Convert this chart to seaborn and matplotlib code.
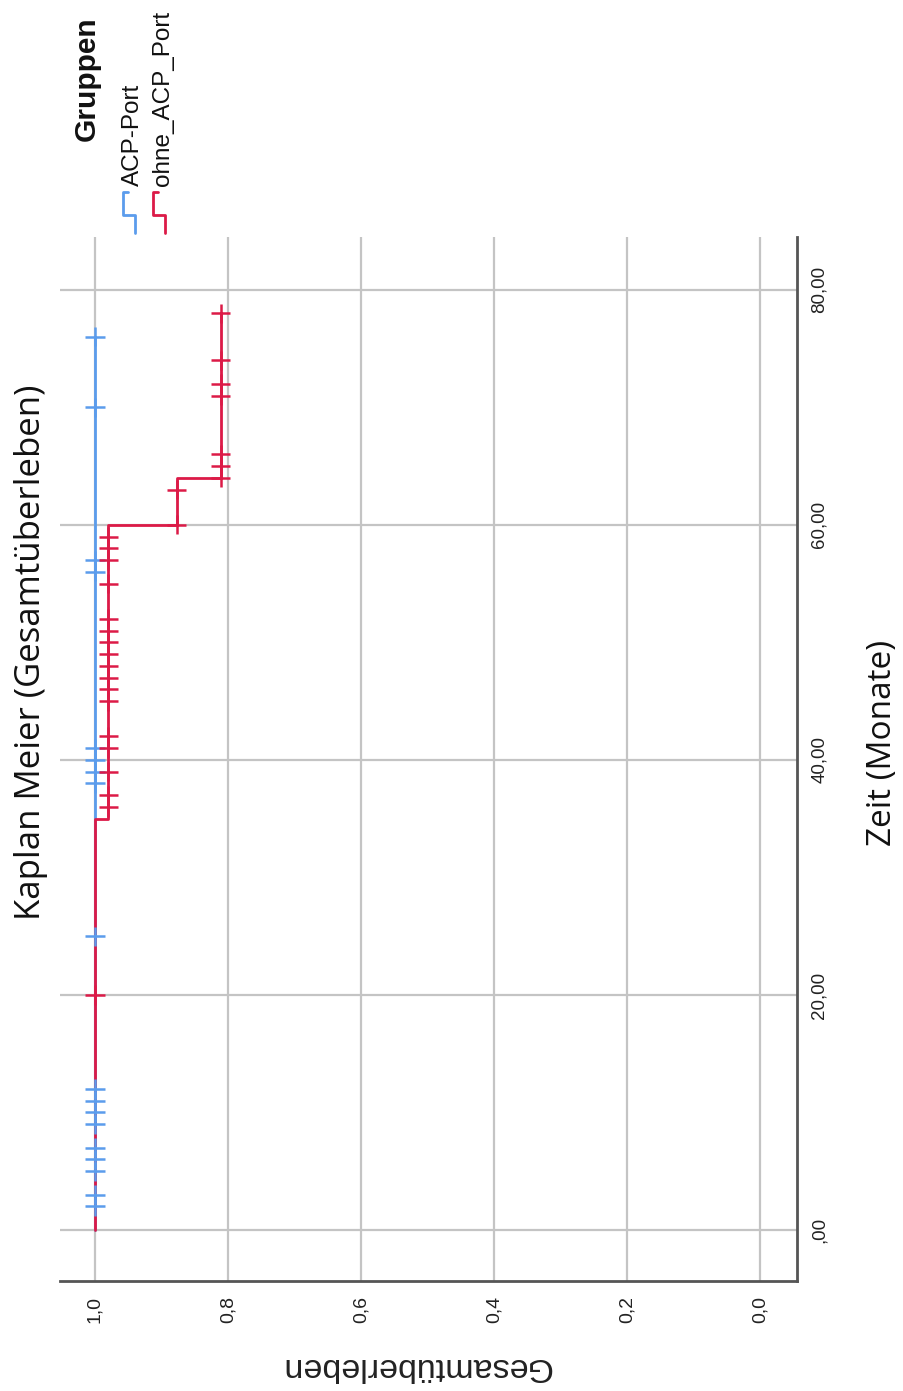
import matplotlib
matplotlib.use("Agg")
import matplotlib.pyplot as plt
import seaborn as sns
import pandas as pd

# Kaplan-Meier step curves (survival, time in months)
acp_time = [0, 76]
acp_surv = [1.0, 1.0]
ohne_time = [0, 35, 60, 64, 78]
ohne_surv = [1.0, 0.98, 0.877, 0.811, 0.811]

# censored observations
acp_cens_time = [2, 3, 5, 6, 7, 9, 10, 11, 12, 25, 38, 39, 40, 41, 56, 57, 70, 76]
ohne_cens_time = [20, 36, 37, 39, 41, 42, 45, 46, 47, 48, 49, 50, 51, 52, 55, 57, 58, 59,
                  60, 63, 64, 65, 66, 71, 72, 74, 78]

surv_ticks = [1.0, 0.8, 0.6, 0.4, 0.2, 0.0]
surv_tick_labels = ["1,0", "0,8", "0,6", "0,4", "0,2", "0,0"]
time_ticks = [0, 20, 40, 60, 80]
time_tick_labels = [",00", "20,00", "40,00", "60,00", "80,00"]

group_names = ["ACP-Port", "ohne_ACP_Port"]
BLUE = "#5b9cec"
RED = "#dc1a47"


def surv_at(times, survs, t):
    s = survs[0]
    for ti, si in zip(times, survs):
        if ti <= t:
            s = si
    return s


sns.set_style("white")
W, H = 904, 1391
fig = plt.figure(figsize=(W / 100, H / 100), dpi=100)


def fx(x):
    return x / W


def fy(y):
    return 1 - y / H


ax = fig.add_axes([fx(60), fy(1281), fx(797) - fx(60), fy(237) - fy(1281)])

curves = pd.DataFrame({
    "surv": acp_surv + ohne_surv,
    "time": acp_time + ohne_time,
    "group": [group_names[0]] * len(acp_time) + [group_names[1]] * len(ohne_time),
})
sns.lineplot(data=curves, x="surv", y="time", hue="group", sort=False, estimator=None,
             palette=[BLUE, RED], drawstyle="steps-pre", linewidth=2.0, legend=False,
             ax=ax, zorder=3)

cens = pd.DataFrame({
    "surv": [surv_at(acp_time, acp_surv, t) for t in acp_cens_time]
            + [surv_at(ohne_time, ohne_surv, t) for t in ohne_cens_time],
    "time": acp_cens_time + ohne_cens_time,
    "group": [group_names[0]] * len(acp_cens_time) + [group_names[1]] * len(ohne_cens_time),
})
sns.scatterplot(data=cens, x="surv", y="time", hue="group", palette=[BLUE, RED],
                marker="+", s=190, linewidth=1.8, legend=False, ax=ax, zorder=4)

ax.set_xlim(1.0526, -0.0556)
ax.set_ylim(-4.34, 84.5)
ax.set_xticks(surv_ticks)
ax.set_xticklabels(surv_tick_labels, rotation=90, fontsize=14,
                   family=["Liberation Sans", "DejaVu Sans"], color="#222222")
ax.yaxis.tick_right()
ax.set_yticks(time_ticks)
ax.set_yticklabels(time_tick_labels, rotation=90, va="center", fontsize=13.5,
                   family=["Liberation Sans Narrow", "Liberation Sans", "DejaVu Sans"],
                   color="#222222")
ax.tick_params(axis="x", length=0, pad=11)
ax.tick_params(axis="y", length=0, pad=10)
ax.set_xlabel("")
ax.set_ylabel("")
ax.grid(True, color="#c4c4c4", linewidth=1.6)
ax.set_axisbelow(True)
for side in ["left", "top"]:
    ax.spines[side].set_visible(False)
for side in ["bottom", "right"]:
    ax.spines[side].set_color("#555555")
    ax.spines[side].set_linewidth(2.0)

# axis titles
fig.text(fx(416), fy(1366), "Gesamtüberleben", rotation=180, ha="center", va="center",
         fontsize=24.5, family=["Liberation Sans", "DejaVu Sans"], color="#222222")
fig.text(fx(883), fy(743), "Zeit (Monate)", rotation=90, ha="center", va="center",
         fontsize=24, family=["Open Sans", "DejaVu Sans"], color="#111111")
fig.text(fx(31), fy(652), "Kaplan Meier (Gesamtüberleben)", rotation=90, ha="center",
         va="center", fontsize=25, family=["Open Sans", "DejaVu Sans"], color="#111111")

# legend
fig.text(fx(87), fy(79), "Gruppen", rotation=90, ha="center", va="center", fontsize=21.5,
         fontweight="bold", family=["Liberation Sans", "DejaVu Sans"], color="#111111")
leg_x = [133, 163]
for name, col, x0 in zip(group_names, [BLUE, RED], leg_x):
    fig.text(fx(x0), fy(186), name, rotation=90, ha="center", va="bottom", fontsize=17.5,
             family=["Liberation Sans", "DejaVu Sans"], color="#111111")
    kx = [x0 - 5, x0 - 10, x0 - 10, x0 + 2, x0 + 2]
    ky = [192, 192, 215, 215, 233]
    fig.add_artist(plt.Line2D([fx(v) for v in kx], [fy(v) for v in ky], color=col,
                              linewidth=2.0, transform=fig.transFigure))

fig.savefig("out.png", dpi=100, facecolor="white")
